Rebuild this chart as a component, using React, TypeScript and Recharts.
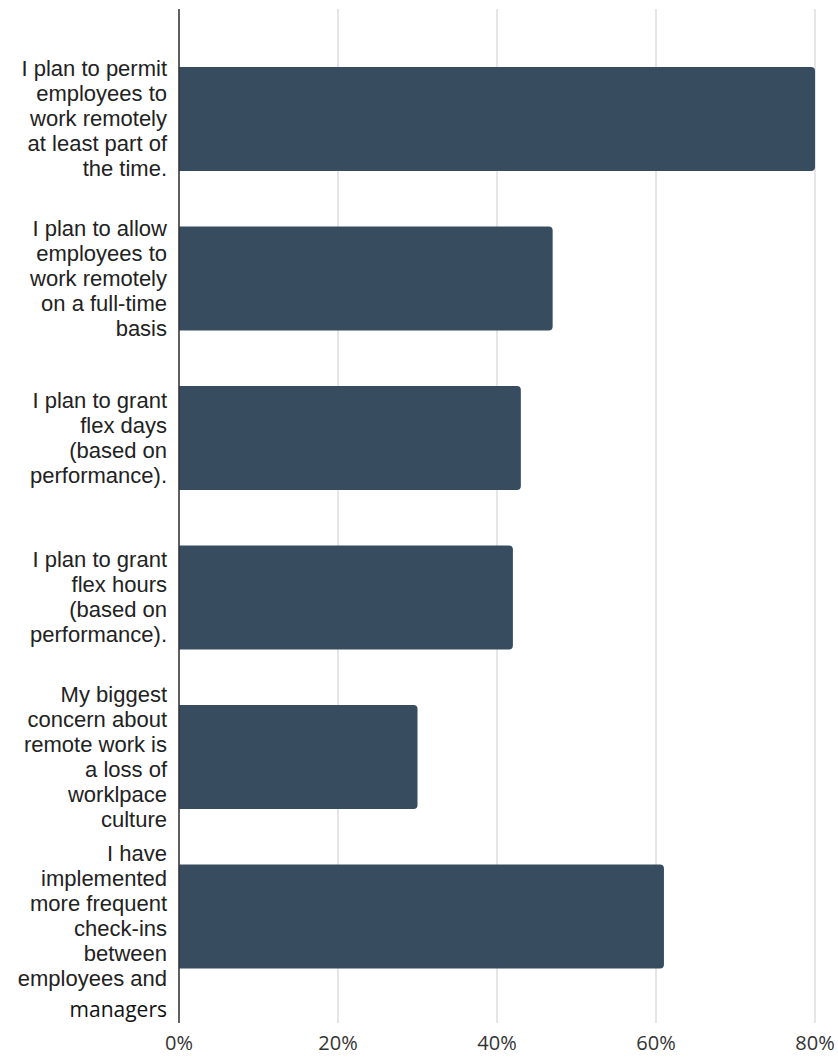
import React from 'react';
import { BarChart, Bar, XAxis, YAxis, CartesianGrid } from 'recharts';

const categories = [
  'I plan to permit employees to work remotely at least part of the time.',
  'I plan to allow employees to work remotely on a full-time basis',
  'I plan to grant flex days (based on performance).',
  'I plan to grant flex hours (based on performance).',
  'My biggest concern about remote work is a loss of worklpace culture',
  'I have implemented more frequent check-ins between employees and managers',
];

const categoryLines: string[][] = [
  ['I plan to permit', 'employees to', 'work remotely', 'at least part of', 'the time.'],
  ['I plan to allow', 'employees to', 'work remotely', 'on a full-time', 'basis'],
  ['I plan to grant', 'flex days', '(based on', 'performance).'],
  ['I plan to grant', 'flex hours', '(based on', 'performance).'],
  ['My biggest', 'concern about', 'remote work is', 'a loss of', 'worklpace', 'culture'],
  ['I have', 'implemented', 'more frequent', 'check-ins', 'between', 'employees and'],
];

const categoryTails: string[][] = [[], [], [], [], [], ['managers']];

const values = [80, 47, 43, 42, 30, 61];

const xTicks = [0, 20, 40, 60, 80];

const data = categories.map((name, i) => ({ name, value: values[i], idx: i }));

const LINE_H = 25;

const YTick = (props: any) => {
  const { x, y, index } = props;
  const lines = categoryLines[index] || [];
  const tails = categoryTails[index] || [];
  const n = lines.length;
  return (
    <g>
      <text textAnchor="end" fontFamily="'Liberation Sans', Arial, sans-serif" fontSize={22} fill="#222">
        {lines.map((l, i) => (
          <tspan key={i} x={x} y={y + (i - (n - 1) / 2) * LINE_H + 7.5}>
            {l}
          </tspan>
        ))}
      </text>
      {tails.map((l, i) => (
        <text
          key={'t' + i}
          x={x}
          y={y + ((n - 1) / 2) * LINE_H + 31 * (i + 1) + 7.5}
          textAnchor="end"
          fontFamily="'Open Sans', sans-serif"
          fontSize={21}
          fill="#111"
        >
          {l}
        </text>
      ))}
    </g>
  );
};

const XTick = (props: any) => {
  const { x, payload } = props;
  return (
    <text x={x} y={1050} textAnchor="middle" fontFamily="'Open Sans', sans-serif" fontSize={20} fill="#333">
      {payload.value + '%'}
    </text>
  );
};

export default function App() {
  return (
    <div style={{ position: 'absolute', left: 0, top: 0, background: '#fff' }}>
      <BarChart
        width={838}
        height={1057}
        data={data}
        layout="vertical"
        margin={{ top: 9, right: 23, bottom: 0, left: 0 }}
      >
        <CartesianGrid horizontal={false} vertical stroke="#cccccc" />
        <XAxis
          type="number"
          domain={[0, 80]}
          ticks={xTicks}
          axisLine={false}
          tickLine={false}
          tickSize={0}
          tickMargin={0}
          height={34}
          tick={(p: any) => <XTick {...p} />}
          interval={0}
        />
        <YAxis
          type="category"
          dataKey="name"
          width={179}
          axisLine={{ stroke: '#333', strokeWidth: 1.5 }}
          tickLine={false}
          tickSize={0}
          tickMargin={12}
          padding={{ top: 30, bottom: 27 }}
          tick={(p: any) => <YTick {...p} />}
          interval={0}
        />
        <Bar dataKey="value" fill="#384c5f" barSize={104} radius={[0, 4, 4, 0]} isAnimationActive={false} />
      </BarChart>
    </div>
  );
}
